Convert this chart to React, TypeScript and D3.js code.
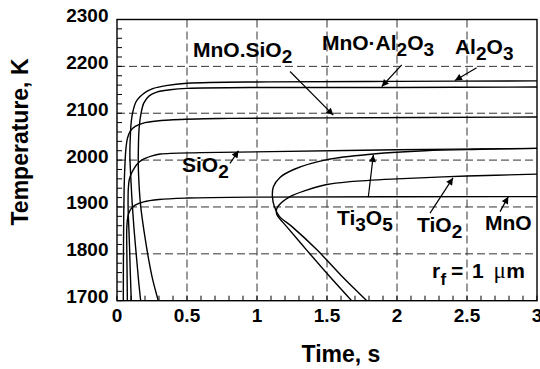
import React from "react";
import * as d3 from "d3";

// ---- data (time s, temperature K) ----
const al2o3: [number, number][] = [
  [0.169, 1700], [0.155, 1740], [0.14, 1790], [0.121, 1855], [0.108, 1910], [0.099, 1960], [0.094, 1990],
  [0.092, 2010], [0.095, 2050], [0.103, 2085], [0.116, 2107], [0.135, 2124], [0.164, 2135], [0.21, 2146],
  [0.26, 2153], [0.35, 2159], [0.5, 2164], [1.09, 2167], [2, 2168], [3, 2169],
];
const mnoAl2o3: [number, number][] = [
  [0.295, 1700], [0.255, 1745], [0.225, 1790], [0.2, 1835], [0.185, 1865], [0.168, 1905], [0.157, 1950],
  [0.152, 1990], [0.153, 2030], [0.158, 2068], [0.172, 2100], [0.192, 2122], [0.23, 2137], [0.284, 2145],
  [0.38, 2150], [0.5, 2153], [1.09, 2155], [2, 2155], [3, 2156],
];
const mnoSio2: [number, number][] = [
  [0.045, 1700], [0.046, 1800], [0.048, 1880], [0.051, 1940], [0.056, 1985], [0.064, 2025], [0.075, 2047],
  [0.095, 2062], [0.13, 2072], [0.2, 2080], [0.4, 2086], [0.8, 2089], [1.5, 2090], [3, 2092],
];
const sio2: [number, number][] = [
  [0.102, 1700], [0.095, 1760], [0.089, 1820], [0.084, 1860], [0.08, 1890], [0.079, 1910], [0.081, 1940],
  [0.087, 1957], [0.098, 1968], [0.116, 1979], [0.14, 1990], [0.176, 2000], [0.25, 2009], [0.31, 2013],
  [0.6, 2016], [1.1, 2018], [2, 2022], [3, 2025],
];
const mno: [number, number][] = [
  [0.074, 1700], [0.072, 1760], [0.07, 1810], [0.069, 1840], [0.07, 1855], [0.074, 1872], [0.082, 1885],
  [0.1, 1896], [0.13, 1904], [0.19, 1911], [0.3, 1916], [0.5, 1919], [1, 1921], [3, 1922],
];
const ti3o5: [number, number][] = [
  [1.784, 1700], [1.61, 1751], [1.43, 1808], [1.25, 1858], [1.16, 1880], [1.125, 1900], [1.11, 1922],
  [1.117, 1943], [1.164, 1963], [1.271, 1981], [1.5, 2001], [1.83, 2013], [2.2, 2020], [2.6, 2023], [3, 2025],
];
const tio2: [number, number][] = [
  [1.676, 1700], [1.521, 1751], [1.355, 1808], [1.212, 1858], [1.145, 1882], [1.138, 1892], [1.152, 1902],
  [1.236, 1922], [1.355, 1936], [1.5, 1948], [1.664, 1954], [2, 1960], [2.5, 1966], [3, 1970],
];
const curves = [al2o3, mnoAl2o3, mnoSio2, sio2, mno, ti3o5, tio2];

const xTicks = [0, 0.5, 1, 1.5, 2, 2.5, 3];
const xTickLabels = ["0", "0.5", "1", "1.5", "2", "2.5", "3"];
const yTicks = [1700, 1800, 1900, 2000, 2100, 2200, 2300];
const yTickLabels = ["1700", "1800", "1900", "2000", "2100", "2200", "2300"];

// labels: parts (text, isSubscript) anchored at (t, T)
const labels: { parts: [string, boolean][]; t: number; T: number }[] = [
  { parts: [["MnO.SiO", false], ["2", true]], t: 0.543, T: 2220 },
  { parts: [["MnO·Al", false], ["2", true], ["O", false], ["3", true]], t: 1.464, T: 2235 },
  { parts: [["Al", false], ["2", true], ["O", false], ["3", true]], t: 2.414, T: 2226 },
  { parts: [["SiO", false], ["2", true]], t: 0.464, T: 1975 },
  { parts: [["Ti", false], ["3", true], ["O", false], ["5", true]], t: 1.571, T: 1861 },
  { parts: [["TiO", false], ["2", true]], t: 2.143, T: 1846 },
  { parts: [["MnO", false]], t: 2.629, T: 1851 },
];
const arrows: [number, number, number, number][] = [
  [1.236, 2189, 1.545, 2096],
  [2.034, 2203, 1.891, 2157],
  [2.569, 2197, 2.414, 2170],
  [0.807, 1993, 0.868, 2020],
  [1.795, 1921, 1.831, 2011],
  [2.236, 1887, 2.4, 1962],
  [2.736, 1890, 2.795, 1922],
];

export default function App() {
  const W = 540, H = 369;
  const x = d3.scaleLinear().domain([0, 3]).range([117, 537]);
  const y = d3.scaleLinear().domain([1700, 2300]).range([300.7, 19.5]);
  const line = d3
    .line<[number, number]>()
    .x((d) => x(d[0]))
    .y((d) => y(d[1]))
    .curve(d3.curveCatmullRom.alpha(0.5));
  const font = "'Liberation Sans', Arial, Helvetica, sans-serif";
  const minorX = d3.range(0, 3.0001, 0.1);
  const minorY = d3.range(1700, 2300.1, 20);
  const [x0, x1] = x.range();
  const [y0, y1] = y.range();
  const ry = y(1748.4);

  return (
    <svg width={W} height={H} style={{ position: "absolute", left: 0, top: 0, background: "#fff" }}>
      <defs>
        <clipPath id="plot">
          <rect x={x0} y={y1} width={x1 - x0} height={y0 - y1} />
        </clipPath>
        <marker id="ah" viewBox="0 0 10 10" refX="10" refY="5" markerWidth="9" markerHeight="7" markerUnits="userSpaceOnUse" orient="auto">
          <path d="M0,0 L10,5 L0,10 z" fill="#000" />
        </marker>
      </defs>
      {/* grid */}
      {xTicks.slice(1, -1).map((t) => (
        <line key={"gx" + t} x1={x(t)} x2={x(t)} y1={y1} y2={y0} stroke="#333" strokeWidth={1} strokeDasharray="8,4" />
      ))}
      {yTicks.slice(1, -1).map((T) => (
        <line key={"gy" + T} x1={x0} x2={x1} y1={y(T)} y2={y(T)} stroke="#333" strokeWidth={1} strokeDasharray="8,4" />
      ))}
      {/* minor ticks */}
      {minorX.map((t) => (
        <line key={"mx" + t} x1={x(t)} x2={x(t)} y1={y0} y2={y0 - 5} stroke="#000" strokeWidth={1} />
      ))}
      {minorY.map((T) => (
        <line key={"my" + T} x1={x0} x2={x0 + 5} y1={y(T)} y2={y(T)} stroke="#000" strokeWidth={1} />
      ))}
      {/* curves */}
      <g clipPath="url(#plot)">
        {curves.map((c, i) => (
          <path key={i} d={line(c) || ""} fill="none" stroke="#000" strokeWidth={1.4} />
        ))}
      </g>
      {/* frame */}
      <rect x={x0} y={y1} width={x1 - x0} height={y0 - y1} fill="none" stroke="#000" strokeWidth={1.4} />
      {/* tick labels */}
      {xTicks.map((t, i) => (
        <text key={"xl" + t} x={x(t)} y={321.7} textAnchor="middle" fontFamily={font} fontWeight="bold" fontSize={19}>
          {xTickLabels[i]}
        </text>
      ))}
      {yTicks.map((T, i) => (
        <text key={"yl" + T} x={108.5} y={y(T) + 2.5} textAnchor="end" fontFamily={font} fontWeight="bold" fontSize={19}>
          {yTickLabels[i]}
        </text>
      ))}
      {/* axis titles */}
      <text x={341} y={361.5} textAnchor="middle" fontFamily={font} fontWeight="bold" fontSize={23}>
        Time, s
      </text>
      <text transform="translate(28,142) rotate(-90)" textAnchor="middle" fontFamily={font} fontWeight="bold" fontSize={23}>
        Temperature, K
      </text>
      {/* labels */}
      {labels.map((l, i) => (
        <text key={"lb" + i} x={x(l.t)} y={y(l.T)} fontFamily={font} fontWeight="bold" fontSize={21}>
          {l.parts.map(([s, sub], j) => (
            <tspan key={j} fontSize={sub ? 19 : 21} dy={j === 0 ? 0 : sub ? 6 : -6}>
              {s}
            </tspan>
          ))}
        </text>
      ))}
      <g fontFamily={font} fontWeight="bold" fontSize={21}>
        <text x={x(2.25)} y={ry}>r</text>
        <text x={x(2.31)} y={ry + 7} fontSize={17}>f</text>
        <text x={x(2.385)} y={ry}>=</text>
        <text x={x(2.535)} y={ry}>1</text>
        <text x={x(2.69)} y={ry} fontWeight="normal" fontFamily="'Liberation Serif', serif" fontSize={23}>μ</text>
        <text x={x(2.78)} y={ry}>m</text>
      </g>
      {/* arrows */}
      {arrows.map((a, i) => (
        <line key={"ar" + i} x1={x(a[0])} y1={y(a[1])} x2={x(a[2])} y2={y(a[3])} stroke="#000" strokeWidth={1.2} markerEnd="url(#ah)" />
      ))}
    </svg>
  );
}
